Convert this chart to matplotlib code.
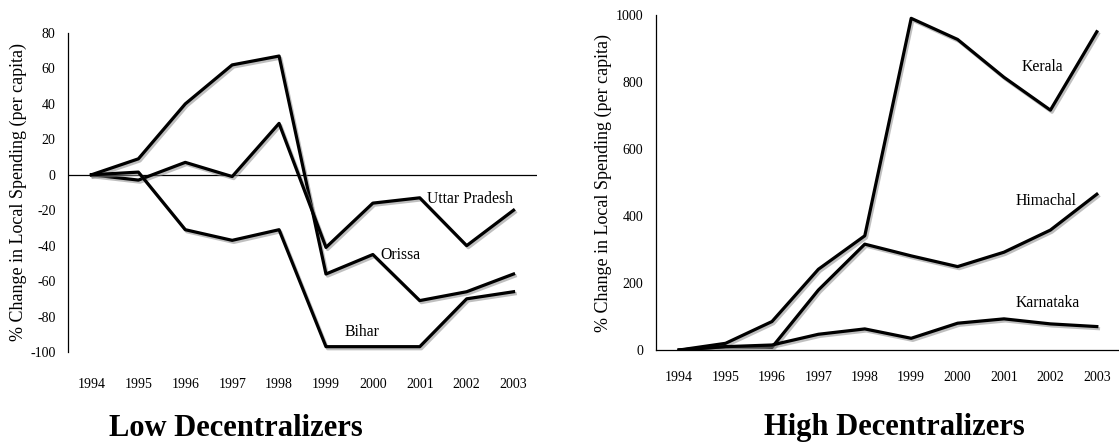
import numpy as np
import matplotlib
matplotlib.use('Agg')
import matplotlib.pyplot as plt
import matplotlib.patheffects as pe

plt.rcParams['font.family'] = ['Liberation Serif', 'DejaVu Serif']
plt.rcParams['axes.unicode_minus'] = False

years = ['1994', '1995', '1996', '1997', '1998', '1999', '2000', '2001', '2002', '2003']

# Low decentralizers (% change, per capita)
orissa = [0, 9, 40, 62, 67, -56, -45, -71, -66, -56]
uttar_pradesh = [0, -3, 7, -1, 29, -41, -16, -13, -40, -20]
bihar = [0, 1.5, -31, -37, -31, -97, -97, -97, -70, -66]

# High decentralizers
kerala = [0, 20, 85, 241, 341, 990, 927, 814, 716, 950]
himachal = [0, 10, 8, 179, 316, 281, 249, 292, 358, 465]
karnataka = [0, 10, 15, 47, 63, 35, 80, 93, 78, 70]

shadow = [pe.SimpleLineShadow(offset=(1.2, -1.5), shadow_color='0.55', alpha=0.55),
          pe.Normal()]
ylab = '% Change in Local Spending (per capita)'
x = np.arange(len(years))

fig = plt.figure(figsize=(11.19, 4.46), dpi=100)

# ---- left panel
ax1 = fig.add_axes([0.0608, 0.2108, 0.4191, 0.7152])
for s in [orissa, uttar_pradesh, bihar]:
    ax1.plot(x, s, color='black', lw=2.3, path_effects=shadow, zorder=3)
ax1.axhline(0, color='black', lw=0.9, zorder=2)
ax1.set_xlim(-0.5, 9.5)
ax1.set_ylim(-100, 80)
ax1.set_yticks(np.arange(-100, 81, 20))
ax1.set_xticks(x)
ax1.set_xticklabels(years)
for sp in ['top', 'right', 'bottom']:
    ax1.spines[sp].set_visible(False)
ax1.spines['left'].set_linewidth(0.9)
ax1.tick_params(axis='y', length=0, pad=9, labelsize=10)
ax1.tick_params(axis='x', length=0, pad=19, labelsize=10)
ax1.set_ylabel(ylab, fontsize=13, labelpad=2)
ax1.text(8.07, -13.5, 'Uttar Pradesh', ha='center', va='center', fontsize=11.3)
ax1.text(6.58, -45, 'Orissa', ha='center', va='center', fontsize=11.3)
ax1.text(5.77, -89, 'Bihar', ha='center', va='center', fontsize=11.3)

# ---- right panel
ax2 = fig.add_axes([0.5862, 0.2152, 0.4147, 0.7512])
for s in [kerala, himachal, karnataka]:
    ax2.plot(x, s, color='black', lw=2.3, path_effects=shadow, zorder=3)
ax2.set_xlim(-0.5, 9.5)
ax2.set_ylim(0, 1000)
ax2.set_yticks(np.arange(0, 1001, 200))
ax2.set_xticks(x)
ax2.set_xticklabels(years)
for sp in ['top', 'right']:
    ax2.spines[sp].set_visible(False)
ax2.spines['left'].set_linewidth(0.9)
ax2.spines['bottom'].set_linewidth(0.9)
ax2.tick_params(axis='y', length=0, pad=9, labelsize=10)
ax2.tick_params(axis='x', length=0, pad=15, labelsize=10)
ax2.set_ylabel(ylab, fontsize=13, labelpad=3)
ax2.text(7.82, 845, 'Kerala', ha='center', va='center', fontsize=11.3)
ax2.text(7.90, 445, 'Himachal', ha='center', va='center', fontsize=11.3)
ax2.text(7.95, 140, 'Karnataka', ha='center', va='center', fontsize=11.3)

fig.text(236 / 1119, 1 - 428 / 446, 'Low Decentralizers', ha='center', va='center',
         fontsize=22, fontweight='bold')
fig.text(894 / 1119, 1 - 428 / 446, 'High Decentralizers', ha='center', va='center',
         fontsize=22, fontweight='bold')

fig.savefig('out.png', dpi=100)
